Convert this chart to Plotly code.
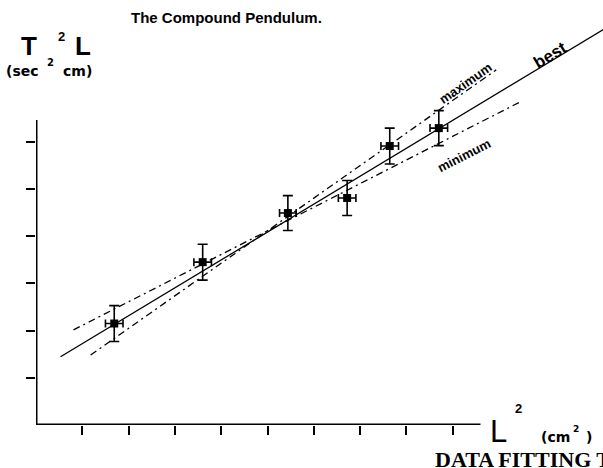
import plotly.graph_objects as go

# ---- data ----
L2 = [1.69, 3.60, 5.44, 6.72, 7.64, 8.70]          # L^2 (arbitrary tick units)
T2L = [2.15, 3.45, 4.49, 4.81, 5.91, 6.29]         # T^2 L
L2_err = [0.19, 0.19, 0.18, 0.19, 0.19, 0.19]
T2L_err = [0.38, 0.38, 0.37, 0.37, 0.38, 0.37]

fit_names = ["best", "maximum", "minimum"]
fit_slope = [0.5914, 0.6897, 0.5006]
fit_intercept = [1.132, 0.668, 1.610]
fit_x_start = [0.53, 1.18, 0.81]
fit_x_end = [12.30, 9.94, 10.43]

x_tick_vals = [1, 2, 3, 4, 5, 6, 7, 8, 9]
y_tick_vals = [1, 2, 3, 4, 5, 6]
x_axis_end = 9.6
y_axis_end = 6.46

# ---- geometry ----
W, H = 603, 468
ML, MR, MT, MB = 36, 0, 0, 43
PW, PH = W - ML - MR, H - MT - MB
X_UNIT, Y_UNIT = 46.3, 47.2

fig = go.Figure()

dash_styles = {"best": "solid", "maximum": "7px,4px,2px,4px", "minimum": "7px,4px,2px,4px"}
for name, m, b, x0, x1 in zip(fit_names, fit_slope, fit_intercept, fit_x_start, fit_x_end):
    xs = [x0, x1]
    ys = [m * x + b for x in xs]
    fig.add_trace(go.Scatter(x=xs, y=ys, mode="lines", name=name,
                             line=dict(color="black", width=1.3, dash=dash_styles[name]),
                             hoverinfo="skip"))

fig.add_trace(go.Scatter(
    x=L2, y=T2L, mode="markers", name="data",
    marker=dict(symbol="square", size=8, color="black"),
    error_y=dict(type="data", array=T2L_err, visible=True, color="black", thickness=1.6, width=5),
    error_x=dict(type="data", array=L2_err, visible=True, color="black", thickness=1.6, width=4),
))

# axis lines (partial, like the original)
fig.add_shape(type="line", xref="x", yref="y", x0=0, y0=0, x1=x_axis_end, y1=0,
              line=dict(color="black", width=3))
fig.add_shape(type="line", xref="x", yref="y", x0=0, y0=0, x1=0, y1=y_axis_end,
              line=dict(color="black", width=3))


def px2paper(px, py):
    return (px - ML) / PW, (H - MB - py) / PH


def ann(text, px, py, size, family="Liberation Sans", angle=0, xanchor="center"):
    xp, yp = px2paper(px, py)
    fig.add_annotation(text=text, x=xp, y=yp, xref="paper", yref="paper",
                       showarrow=False, textangle=angle, xanchor=xanchor, yanchor="middle",
                       font=dict(family=family, size=size, color="black"))


ann("<b>The Compound Pendulum.</b>", 226, 17, 15)
ann("<b>T</b>", 29, 46, 26)
ann("<b>2</b>", 61, 36, 13)
ann("<b>L</b>", 83, 46, 26)
ann("<b>(sec</b>", 22, 71, 14, family="DejaVu Sans")
ann("<b>2</b>", 50, 63, 10, family="DejaVu Sans")
ann("<b>cm)</b>", 77, 71, 14, family="DejaVu Sans")

ann("L", 498, 432, 31)
ann("<b>2</b>", 518, 408, 13)
ann("<b>(cm</b>", 555, 437, 14, family="DejaVu Sans")
ann("<b>2</b>", 576, 429, 9, family="DejaVu Sans")
ann("<b>)</b>", 589, 437, 14, family="DejaVu Sans")

ann("<b>DATA FITTING TECHNIQUES</b>", 433, 459, 22, family="Liberation Serif", xanchor="left")

ann("<b>best</b>", 550, 56, 17, angle=-31)
ann("<b>maximum</b>", 465, 83, 13, angle=-35)
ann("<b>minimum</b>", 464, 155, 13, angle=-27)

fig.update_layout(
    width=W, height=H, showlegend=False,
    margin=dict(l=ML, r=MR, t=MT, b=MB),
    paper_bgcolor="white", plot_bgcolor="white",
    xaxis=dict(range=[0, PW / X_UNIT], tickvals=x_tick_vals, ticks="outside", ticklen=9,
               tickwidth=2, tickcolor="black", showticklabels=False, showgrid=False,
               zeroline=False, showline=False, fixedrange=True),
    yaxis=dict(range=[0, PH / Y_UNIT], tickvals=y_tick_vals, ticks="outside", ticklen=9,
               tickwidth=2, tickcolor="black", showticklabels=False, showgrid=False,
               zeroline=False, showline=False, fixedrange=True),
)

fig.write_html("out.html", config={"displayModeBar": False},
               post_script="document.body.style.margin='0px';document.body.style.overflow='hidden';")
